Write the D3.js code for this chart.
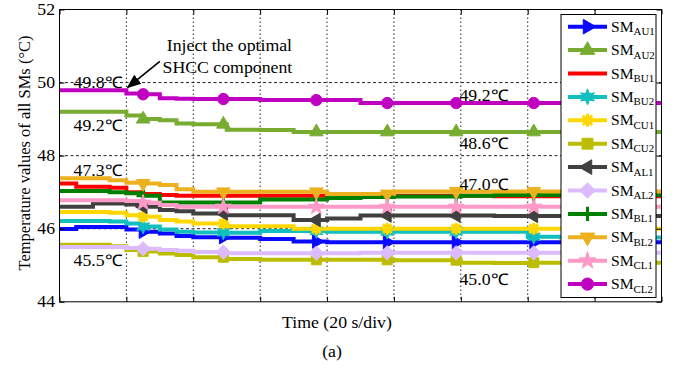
<!DOCTYPE html>
<html><head><meta charset="utf-8">
<script src="https://cdn.jsdelivr.net/npm/d3@7"></script>
<style>
html,body{margin:0;padding:0;background:#fff;}
svg{display:block;font-family:"Liberation Serif","Times New Roman",serif;}
</style></head>
<body><svg id="c" width="675" height="368"></svg>
<script>
// time axis in divisions (20 s/div)
const times = [0,0.25,0.5,0.75,1.0,1.25,1.5,1.75,2.0,2.5,3.0,3.5,4.0,4.5,5.0,5.5,6.0,6.5,7.0,7.5,8.0,9.0];
const sAU1 = [45.99,46.05,46.05,46.05,45.98,45.92,45.87,45.80,45.77,45.75,45.72,45.65,45.63,45.63,45.63,45.63,45.63,45.63,45.63,45.63,45.63,45.63];
const sAU2 = [49.20,49.20,49.20,49.20,49.10,49.00,48.97,48.88,48.86,48.71,48.70,48.65,48.65,48.65,48.65,48.65,48.65,48.65,48.65,48.65,48.65,48.65];
const sBU1 = [47.24,47.15,47.15,47.12,47.00,46.95,46.92,46.90,46.90,46.90,46.90,46.90,46.90,46.90,46.90,46.90,46.90,46.89,46.89,46.89,46.89,46.89];
const sBU2 = [46.21,46.21,46.21,46.20,46.14,46.06,45.98,45.92,45.90,45.89,45.94,45.94,45.92,45.92,45.92,45.92,45.92,45.92,45.78,45.76,45.76,45.76];
const sCU1 = [46.46,46.46,46.46,46.44,46.37,46.33,46.24,46.20,46.14,46.07,46.07,46.00,46.00,46.00,46.00,46.00,46.00,46.00,46.00,46.00,46.00,46.00];
const sCU2 = [45.56,45.56,45.56,45.52,45.42,45.38,45.32,45.28,45.22,45.17,45.15,45.15,45.15,45.15,45.14,45.14,45.07,45.06,45.07,45.07,45.07,45.07];
const sAL1 = [46.60,46.60,46.69,46.69,46.66,46.60,46.51,46.48,46.42,46.37,46.37,46.24,46.28,46.36,46.36,46.36,46.36,46.35,46.35,46.35,46.35,46.35];
const sAL2 = [45.50,45.50,45.50,45.50,45.47,45.45,45.42,45.40,45.36,45.33,45.33,45.33,45.33,45.34,45.34,45.34,45.34,45.34,45.34,45.34,45.34,45.34];
const sBL1 = [47.03,47.03,47.03,47.00,46.97,46.90,46.72,46.72,46.72,46.72,46.80,46.80,46.84,46.87,46.88,46.88,46.90,46.92,46.92,46.92,46.92,46.92];
const sBL2 = [47.38,47.38,47.38,47.33,47.26,47.24,47.20,47.08,47.01,47.01,47.01,47.01,46.95,46.95,47.02,47.02,47.02,47.02,47.02,47.02,47.02,47.02];
const sCL1 = [46.78,46.78,46.78,46.78,46.76,46.71,46.65,46.60,46.60,46.60,46.60,46.60,46.60,46.60,46.60,46.60,46.60,46.60,46.60,46.60,46.60,46.60];
const sCL2 = [49.79,49.79,49.79,49.79,49.70,49.68,49.57,49.56,49.55,49.55,49.52,49.52,49.52,49.44,49.44,49.44,49.44,49.44,49.44,49.44,49.44,49.44];
const markerTimes = [1.25,2.45,3.84,4.90,5.93,7.09];
const seriesNames = ["AU1","AU2","BU1","BU2","CU1","CU2","AL1","AL2","BL1","BL2","CL1","CL2"];
const seriesValues = [sAU1,sAU2,sBU1,sBU2,sCU1,sCU2,sAL1,sAL2,sBL1,sBL2,sCL1,sCL2];
const seriesColors = ["#0a0aff","#77ac30","#ff0000","#12bfbf","#ffd700","#bdbd00","#404040","#dcbcff","#008000","#edb120","#ff99c8","#c000c0"];
const seriesMarkers = ["tri-right","tri-up","none","hexagram","asterisk","square","tri-left","diamond","plus","tri-down","star","circle"];
const yTicks = [44,46,48,50,52];
const xTicks = [0,1,2,3,4,5,6,7,8,9];
// annotation labels: [text, value level]
const leftLabels = [["49.8℃",49.85],["49.2℃",48.675],["47.3℃",47.43],["45.5℃",44.98]];
const rightLabels = [["49.2℃",49.50],["48.6℃",48.17],["47.0℃",47.06],["45.0℃",44.46]];

const SX = 1.11; // horizontal stretch of the reference's lettering
const svg = d3.select("#c");
const x = d3.scaleLinear().domain([0,9]).range([59.5,661.5]);
const y = d3.scaleLinear().domain([44,52]).range([301.8,9.5]);

function txt(g,px,py,s,size,anchor){
  return g.append("text").attr("transform",`translate(${px},${py}) scale(${SX},1)`)
    .attr("font-size",size).attr("text-anchor",anchor||"start").attr("fill","#000").text(s);
}

// grid
const grid = svg.append("g");
grid.selectAll("line.h").data([46,48,50]).join("line")
  .attr("x1",x(0)).attr("x2",x(9)).attr("y1",d=>y(d)).attr("y2",d=>y(d))
  .attr("stroke","#222").attr("stroke-width",1).attr("stroke-dasharray","3,2.5");
grid.selectAll("line.v").data(xTicks.slice(1,9)).join("line")
  .attr("x1",d=>x(d)).attr("x2",d=>x(d)).attr("y1",y(52)).attr("y2",y(44))
  .attr("stroke","#222").attr("stroke-width",1).attr("stroke-dasharray","1.5,2.5");

// lines
const line = d3.line().x(d=>x(d.t)).y(d=>y(d.v)).curve(d3.curveStepAfter);
function valAt(vals,t){let v=vals[0];for(let i=0;i<times.length;i++){if(times[i]<=t)v=vals[i];}return v;}

function markerPath(type,s){
  switch(type){
    case "tri-up": return d3.symbol(d3.symbolTriangle,s*s*0.55)();
    case "square": return d3.symbol(d3.symbolSquare,s*s*0.7)();
    case "diamond": return `M0,${-s*0.6}L${s*0.6},0L0,${s*0.6}L${-s*0.6},0Z`;
    case "circle": return d3.symbol(d3.symbolCircle,s*s*0.7)();
    case "star": return d3.symbol(d3.symbolStar,s*s*0.55)();
    case "hexagram": {
      let p="";const R=s*0.62,r=s*0.3;
      for(let i=0;i<12;i++){const a=-Math.PI/2+i*Math.PI/6;const rr=i%2?r:R;p+=(i?"L":"M")+(rr*Math.cos(a)).toFixed(2)+","+(rr*Math.sin(a)).toFixed(2);}
      return p+"Z";}
    case "plus": {const h=s*0.55;return `M${-h},0L${h},0M0,${-h}L0,${h}`;}
    case "asterisk": {const h=s*0.5;const d=h*0.72;return `M${-h},0L${h},0M0,${-h}L0,${h}M${-d},${-d}L${d},${d}M${-d},${d}L${d},${-d}`;}
    default: return d3.symbol(d3.symbolTriangle,s*s*0.55)();
  }
}
function rot(type){return type==="tri-right"?90:type==="tri-left"?-90:type==="tri-down"?180:0;}
function drawMarker(g,type,color,cx,cy,s){
  if(type==="none")return;
  const stroked = type==="plus"||type==="asterisk";
  g.append("path").attr("d",markerPath(type,s))
   .attr("transform",`translate(${cx},${cy}) rotate(${rot(type)})`)
   .attr("fill",stroked?"none":color).attr("stroke",color)
   .attr("stroke-width",stroked?3:1);
}

const plot = svg.append("g");
seriesValues.forEach((vals,i)=>{
  const pts = times.map((t,j)=>({t:t,v:vals[j]}));
  plot.append("path").attr("d",line(pts)).attr("fill","none")
    .attr("stroke",seriesColors[i]).attr("stroke-width",4);
});
seriesValues.forEach((vals,i)=>{
  markerTimes.forEach(mt=>drawMarker(plot,seriesMarkers[i],seriesColors[i],x(mt),y(valAt(vals,mt)),12));
});

// annotations
const ann = svg.append("g");
leftLabels.forEach(d=>txt(ann,x(0.21),y(d[1]),d[0],16));
rightLabels.forEach(d=>txt(ann,x(5.98),y(d[1]),d[0],16));
txt(ann,x(2.54),50.7,"Inject the optimal",16,"middle");
txt(ann,x(2.51),73.3,"SHCC component",16,"middle");
svg.append("defs").append("marker").attr("id","ah").attr("viewBox","0 0 10 10").attr("refX",9).attr("refY",5)
  .attr("markerWidth",9).attr("markerHeight",9).attr("orient","auto-start-reverse")
  .append("path").attr("d","M0,1L10,5L0,9Z").attr("fill","#000");
svg.append("line").attr("x1",x(1.5)).attr("y1",y(50.58)).attr("x2",x(1.02)).attr("y2",y(49.87))
  .attr("stroke","#000").attr("stroke-width",1.6).attr("marker-end","url(#ah)");

// axes (inward ticks, box)
function styleAxis(g){g.select(".domain").remove();g.selectAll("line").attr("stroke","#000");}
svg.append("g").attr("transform",`translate(${x(0)},0)`).call(d3.axisLeft(y).tickValues(yTicks).tickSizeInner(-5).tickSizeOuter(0).tickFormat("")).call(styleAxis);
svg.append("g").attr("transform",`translate(${x(9)},0)`).call(d3.axisRight(y).tickValues(yTicks).tickSizeInner(-5).tickSizeOuter(0).tickFormat("")).call(styleAxis);
svg.append("g").attr("transform",`translate(0,${y(44)})`).call(d3.axisBottom(x).tickValues(xTicks).tickSizeInner(-5).tickSizeOuter(0).tickFormat("")).call(styleAxis);
svg.append("g").attr("transform",`translate(0,${y(52)})`).call(d3.axisTop(x).tickValues(xTicks).tickSizeInner(-5).tickSizeOuter(0).tickFormat("")).call(styleAxis);
const yl = svg.append("g");
yTicks.forEach(v=>txt(yl,x(0)-4.5,y(v)+5.5,String(v),16,"end"));
svg.append("rect").attr("x",x(0)).attr("y",y(52)).attr("width",x(9)-x(0)).attr("height",y(44)-y(52))
  .attr("fill","none").attr("stroke","#000").attr("stroke-width",1);

// legend
const lg = svg.append("g");
lg.append("rect").attr("x",561).attr("y",14.5).attr("width",95).attr("height",283).attr("fill","#fff").attr("stroke","#000").attr("stroke-width",1);
seriesNames.forEach((n,i)=>{
  const ly = 26.7 + i*23.4;
  lg.append("line").attr("x1",568).attr("x2",607).attr("y1",ly).attr("y2",ly).attr("stroke",seriesColors[i]).attr("stroke-width",4);
  drawMarker(lg,seriesMarkers[i],seriesColors[i],587.5,ly,13);
  const t = lg.append("text").attr("transform",`translate(611,${ly+5}) scale(1.04,1)`).attr("font-size",15).attr("fill","#000");
  t.append("tspan").text("SM");
  t.append("tspan").attr("dy",3.5).attr("font-size",10.5).text(n);
});

// axis titles
svg.append("text").attr("transform",`translate(30,153) rotate(-90)`).attr("text-anchor","middle")
  .attr("font-size",16.5).text("Temperature values of all SMs (°C)");
txt(svg,337,327.5,"Time (20 s/div)",16,"middle");
txt(svg,332,357,"(a)",16,"middle");
</script></body></html>
